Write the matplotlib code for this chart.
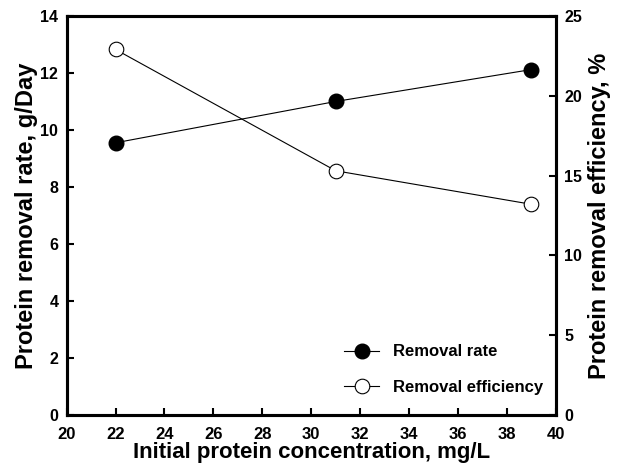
import numpy as np
import matplotlib
matplotlib.use("Agg")
import matplotlib.pyplot as plt

plt.rcParams['font.family'] = ['Liberation Sans', 'DejaVu Sans']
plt.rcParams['font.weight'] = 'bold'

# data
conc = [22, 31, 39]
removal_rate = [9.55, 11.0, 12.12]
removal_eff = [22.9, 15.3, 13.2]

x_ticks = np.arange(20, 41, 2)
left_ticks = np.arange(0, 15, 2)
right_ticks = np.arange(0, 26, 5)

fig = plt.figure(figsize=(6.17, 4.68), dpi=100)
ax = fig.add_axes([0.108, 0.1133, 0.793, 0.8526])
ax2 = ax.twinx()

l1, = ax.plot(conc, removal_rate, color='black', lw=0.8, marker='o',
              ms=10.5, mfc='black', mec='black', label='Removal rate')
l2, = ax2.plot(conc, removal_eff, color='black', lw=0.8, marker='o',
               ms=10.5, mfc='white', mec='black', mew=0.8, label='Removal efficiency')

ax.set_xlim(20, 40)
ax.set_ylim(0, 14)
ax2.set_ylim(0, 25)
ax.set_xticks(x_ticks)
ax.set_yticks(left_ticks)
ax2.set_yticks(right_ticks)

for a in (ax, ax2):
    for s in a.spines.values():
        s.set_linewidth(2.2)
    a.tick_params(direction='in', length=5, width=1.5, labelsize=11.5, pad=6)
ax.tick_params(axis='x', labelsize=12, pad=9)

ax.set_xlabel('Initial protein concentration, mg/L', fontsize=16, fontweight='bold', labelpad=0)
ax.set_ylabel('Protein removal rate, g/Day', fontsize=17, fontweight='bold', labelpad=2)
ax2.set_ylabel('Protein removal efficiency, %', fontsize=17, fontweight='bold', labelpad=4)

leg = ax.legend(handles=[l1, l2], loc='lower right', bbox_to_anchor=(1.004, 0.012),
                frameon=False, handlelength=2.1, handletextpad=0.8, labelspacing=1.25,
                prop={'weight': 'bold', 'size': 12})

fig.savefig('out.png', dpi=100)
